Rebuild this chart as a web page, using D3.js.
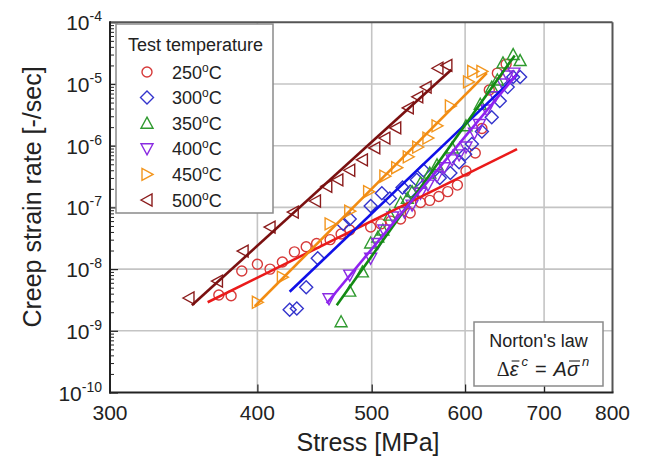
<!DOCTYPE html>
<html><head><meta charset="utf-8">
<script src="https://cdn.jsdelivr.net/npm/d3@7"></script>
<style>body{margin:0;background:#fff}svg{display:block;font-family:"Liberation Sans",Arial,sans-serif}</style>
</head><body><svg id="c" width="645" height="463"></svg>
<script>
// ---- data ----
const xTickValues = [300, 400, 500, 600, 700, 800];
const xGridValues = [400, 500, 600, 700];
const yTickExponents = [-10, -9, -8, -7, -6, -5, -4];
const temps = ["250", "300", "350", "400", "450", "500"];

const s250 = [371,380,388,400,410,420,430,440,449,461,471,479,499,509,519,529,539,550,560,570,580,591,601,612,620,629,639,650];
const r250 = [3.8e-9,3.7e-9,9.3e-9,1.2e-8,1.0e-8,1.3e-8,1.9e-8,2.3e-8,2.6e-8,3.0e-8,3.7e-8,4.3e-8,4.8e-8,5.4e-8,6.0e-8,6.5e-8,8.1e-8,1.2e-7,1.3e-7,1.5e-7,1.8e-7,2.3e-7,3.9e-7,7.6e-7,1.9e-6,8.0e-6,1.5e-5,2.1e-5];
const fit250S = [363, 664], fit250R = [2.9e-9, 8.8e-7];

const s300 = [426,432,440,450,473,479,499,510,518,531,539,546,553,571,583,593,600,608,620,632,642,652,659,668];
const r300 = [2.2e-9,2.3e-9,5.1e-9,1.5e-8,5.4e-8,6.5e-8,1.05e-7,1.7e-7,1.4e-7,2.1e-7,1.8e-7,2.8e-7,4.0e-7,3.0e-7,3.6e-7,5.4e-7,7.3e-7,1.07e-6,1.7e-6,2.9e-6,5.3e-6,8.9e-6,1.3e-5,1.3e-5];
const fit300S = [426, 664], fit300R = [4.3e-9, 1.4e-5];

const s350 = [471,479,491,499,506,511,518,529,536,541,550,560,568,585,601,618,632,639,646,659,668];
const r350 = [1.4e-9,4.4e-9,9.0e-9,2.65e-8,3.3e-8,4.3e-8,7.5e-8,1.2e-7,1.4e-7,1.8e-7,2.5e-7,3.6e-7,4.9e-7,9.2e-7,2.1e-6,4.7e-6,8.9e-6,1.16e-5,2.2e-5,3.0e-5,2.4e-5];
const fit350S = [467, 661], fit350R = [2.6e-9, 2.9e-5];

const s400 = [460,479,499,506,512,521,533,541,550,558,568,576,585,593,601,611,617,626,636,646,652,660];
const r400 = [3.3e-9,8.0e-9,1.5e-8,2.6e-8,4.3e-8,7.0e-8,8.4e-8,1.09e-7,1.7e-7,2.3e-7,3.2e-7,4.4e-7,5.9e-7,7.1e-7,9.5e-7,1.6e-6,2.2e-6,3.8e-6,6.2e-6,1.0e-5,1.35e-5,1.5e-5];
const fit400S = [458, 663], fit400R = [2.8e-9, 1.4e-5];

const s450 = [400,420,461,479,497,513,525,537,547,558,568,583,604,609,620];
const r450 = [2.9e-9,7.4e-9,5.4e-8,8.7e-8,1.8e-7,3.2e-7,4.4e-7,6.6e-7,9.5e-7,1.33e-6,2.1e-6,4.4e-6,1.08e-5,1.6e-5,1.6e-5];
const fit450S = [398, 626], fit450R = [2.5e-9, 1.5e-5];

const s500 = [350,370,389,410,429,448,458,468,479,491,503,513,524,537,547,556,569,579];
const r500 = [3.4e-9,6.4e-9,1.96e-8,4.8e-8,8.4e-8,1.27e-7,2.2e-7,2.8e-7,4.0e-7,5.9e-7,9.2e-7,1.33e-6,1.94e-6,4.1e-6,6.2e-6,8.9e-6,1.8e-5,2.0e-5];
const fit500S = [352, 584], fit500R = [2.6e-9, 1.7e-5];

// ---- styling ----
const markerColors = ["#d63a3a", "#3434cc", "#2f9a2f", "#8a2be2", "#f3961e", "#8b1c1c"];
const lineColors   = ["#ea1a1a", "#1010e8", "#138a13", "#8f22f0", "#f28c12", "#7a1010"];
const markerPaths = [
  null,
  "M0,-6.5L6.5,0L0,6.5L-6.5,0Z",
  "M0,-6L6,5L-6,5Z",
  "M0,6L6,-5L-6,-5Z",
  "M6,0L-5,-6L-5,6Z",
  "M-6,0L5,-6L5,6Z"
];
const series = [
  {s: s250, r: r250, fs: fit250S, fr: fit250R},
  {s: s300, r: r300, fs: fit300S, fr: fit300R},
  {s: s350, r: r350, fs: fit350S, fr: fit350R},
  {s: s400, r: r400, fs: fit400S, fr: fit400R},
  {s: s450, r: r450, fs: fit450S, fr: fit450R},
  {s: s500, r: r500, fs: fit500S, fr: fit500R}
];

const L = 110, R = 612.5, T = 22.3, B = 392.5;
const svg = d3.select("#c");
const x = d3.scaleLog().domain([300, 800]).range([L, R]);
const y = d3.scaleLog().domain([1e-10, 1e-4]).range([B, T]);

// grid
const g = svg.append("g");
g.selectAll(".vg").data(xGridValues).enter().append("line")
  .attr("x1", d => x(d)).attr("x2", d => x(d)).attr("y1", T).attr("y2", B)
  .attr("stroke", "#c4c4c4").attr("stroke-width", 1.6);
g.selectAll(".hg").data(yTickExponents.slice(1, -1)).enter().append("line")
  .attr("x1", L).attr("x2", R).attr("y1", d => y(Math.pow(10, d))).attr("y2", d => y(Math.pow(10, d)))
  .attr("stroke", "#c4c4c4").attr("stroke-width", 1.6);

// axes ticks (inside)
const minor = [];
for (let e = -10; e < -4; e++) for (let m = 2; m <= 9; m++) minor.push(m * Math.pow(10, e));
const yMinorAxis = d3.axisLeft(y).tickValues(minor).tickSize(-4).tickFormat("");
const yMajorAxis = d3.axisLeft(y).tickValues(yTickExponents.map(e => Math.pow(10, e))).tickSize(-8).tickFormat("");
svg.append("g").attr("transform", `translate(${L},0)`).call(yMinorAxis).call(s => s.select(".domain").remove())
  .selectAll("line").attr("stroke", "#222");
svg.append("g").attr("transform", `translate(${L},0)`).call(yMajorAxis).call(s => s.select(".domain").remove())
  .selectAll("line").attr("stroke", "#222").attr("stroke-width", 1.2);
const xAxis = d3.axisBottom(x).tickValues(xGridValues).tickSize(-8).tickFormat("");
svg.append("g").attr("transform", `translate(0,${B})`).call(xAxis).call(s => s.select(".domain").remove())
  .selectAll("line").attr("stroke", "#222").attr("stroke-width", 1.2);

// series: markers then fit line
const lineGen = d3.line().x(d => x(d[0])).y(d => y(d[1]));
series.forEach((sr, i) => {
  const pts = sr.s.map((v, k) => [v, sr.r[k]]);
  const mg = svg.append("g");
  if (i === 0) {
    mg.selectAll("circle").data(pts).enter().append("circle")
      .attr("cx", d => x(d[0])).attr("cy", d => y(d[1])).attr("r", 5)
      .attr("fill", "none").attr("stroke", markerColors[i]).attr("stroke-width", 1.4);
  } else {
    mg.selectAll("path").data(pts).enter().append("path")
      .attr("d", markerPaths[i]).attr("transform", d => `translate(${x(d[0])},${y(d[1])})`)
      .attr("fill", "none").attr("stroke", markerColors[i]).attr("stroke-width", 1.4);
  }
});
series.forEach((sr, i) => {
  svg.append("path").datum(sr.fs.map((v, k) => [v, sr.fr[k]]))
    .attr("d", lineGen).attr("fill", "none").attr("stroke", lineColors[i]).attr("stroke-width", 2.6);
});

// frame
svg.append("line").attr("x1", L).attr("x2", R).attr("y1", T).attr("y2", T).attr("stroke", "#555").attr("stroke-width", 2);
svg.append("line").attr("x1", R).attr("x2", R).attr("y1", T).attr("y2", B).attr("stroke", "#555").attr("stroke-width", 2);
svg.append("line").attr("x1", L).attr("x2", L).attr("y1", T - 1).attr("y2", B + 1).attr("stroke", "#222").attr("stroke-width", 2);
svg.append("line").attr("x1", L - 1).attr("x2", R + 1).attr("y1", B).attr("y2", B).attr("stroke", "#222").attr("stroke-width", 2);

// tick labels
svg.selectAll(".xl").data(xTickValues).enter().append("text")
  .attr("x", d => x(d)).attr("y", 420).attr("text-anchor", "middle")
  .attr("font-size", 21).attr("fill", "#222").text(d => d);
yTickExponents.forEach(e => {
  const t = svg.append("text").attr("x", 102).attr("y", y(Math.pow(10, e)) + 8)
    .attr("text-anchor", "end").attr("font-size", 21).attr("fill", "#222");
  t.append("tspan").text("10");
  t.append("tspan").attr("dy", -9).attr("font-size", 14).text(String(e));
});

// axis titles
svg.append("text").attr("x", 368).attr("y", 451).attr("text-anchor", "middle")
  .attr("font-size", 25).attr("fill", "#222").text("Stress [MPa]");
svg.append("text").attr("transform", "translate(41,197) rotate(-90)").attr("text-anchor", "middle")
  .attr("font-size", 25).attr("fill", "#222").text("Creep strain rate [-/sec]");

// legend
const lg = svg.append("g");
lg.append("rect").attr("x", 116).attr("y", 24).attr("width", 157).attr("height", 189)
  .attr("fill", "#fff").attr("stroke", "#8a8a8a").attr("stroke-width", 1.5);
lg.append("text").attr("x", 128).attr("y", 51).attr("font-size", 18).attr("fill", "#222").text("Test temperature");
temps.forEach((tp, i) => {
  const cy = 72 + i * 25.6;
  if (i === 0) {
    lg.append("circle").attr("cx", 147).attr("cy", cy).attr("r", 5)
      .attr("fill", "none").attr("stroke", markerColors[i]).attr("stroke-width", 1.4);
  } else {
    lg.append("path").attr("d", markerPaths[i]).attr("transform", `translate(147,${cy})`)
      .attr("fill", "none").attr("stroke", markerColors[i]).attr("stroke-width", 1.4);
  }
  const t = lg.append("text").attr("x", 172).attr("y", cy + 6.5).attr("font-size", 18).attr("fill", "#222");
  t.append("tspan").text(tp);
  t.append("tspan").attr("dy", -7).attr("font-size", 12).text("o");
  t.append("tspan").attr("dy", 7).text("C");
});

// Norton's law box
const nb = svg.append("g");
nb.append("rect").attr("x", 474).attr("y", 322).attr("width", 129).attr("height", 64)
  .attr("fill", "#fff").attr("stroke", "#8a8a8a").attr("stroke-width", 1.5);
nb.append("text").attr("x", 538.5).attr("y", 347).attr("text-anchor", "middle")
  .attr("font-size", 18).attr("fill", "#222").text("Norton's law");
const pieces = [
  {t: "Δ", fam: "Liberation Serif", it: false},
  {t: "ε", it: true, bar: true},
  {t: "c", it: true, sup: true},
  {t: "=", it: false, pad: 7},
  {t: "A", it: true},
  {t: "σ", it: true, bar: true},
  {t: "n", it: true, sup: true}
];
const fg = nb.append("g");
let cx = 0;
const baseY = 376;
pieces.forEach(p => {
  cx += (p.pad || 0) + (p.sup ? 3 : 0);
  const el = fg.append("text").attr("x", cx).attr("y", p.sup ? baseY - 10 : baseY)
    .attr("font-size", p.sup ? 13 : 20).attr("fill", "#222")
    .attr("font-style", p.it ? "italic" : "normal").text(p.t);
  if (p.fam) el.attr("font-family", p.fam);
  const w = el.node().getComputedTextLength();
  if (p.bar) {
    fg.append("line").attr("x1", cx + 2).attr("x2", cx + w + 1).attr("y1", baseY - 15).attr("y2", baseY - 15)
      .attr("stroke", "#222").attr("stroke-width", 1.1);
  }
  cx += w + (p.pad || 0);
});
fg.attr("transform", `translate(${543 - cx / 2},0)`);
</script>
</body></html>
